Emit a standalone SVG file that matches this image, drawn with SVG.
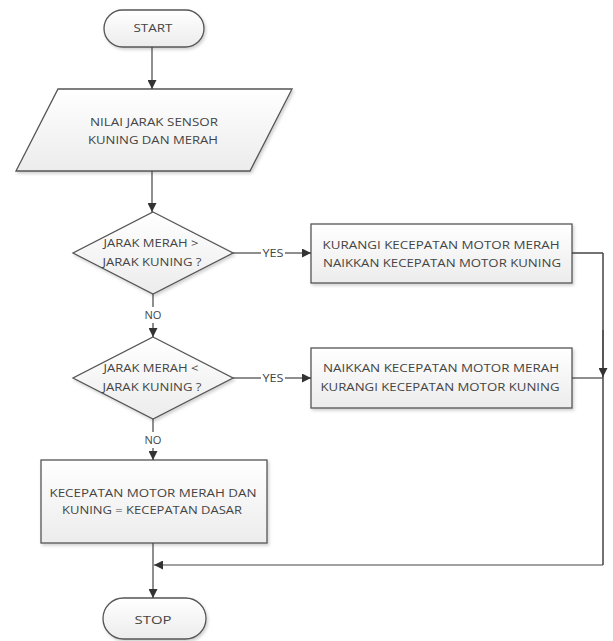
<svg xmlns="http://www.w3.org/2000/svg" width="613" height="641" viewBox="0 0 613 641">
<defs>
<linearGradient id="g" x1="0" y1="0" x2="0" y2="1">
<stop offset="0" stop-color="#ffffff"/>
<stop offset="1" stop-color="#ececec"/>
</linearGradient>
<filter id="sh" x="-5%" y="-5%" width="112%" height="125%">
<feDropShadow dx="1.5" dy="2" stdDeviation="1.5" flood-color="#000" flood-opacity="0.18"/>
</filter>
<marker id="ah" viewBox="0 0 10 10" refX="10" refY="5" markerWidth="9" markerHeight="9" markerUnits="userSpaceOnUse" orient="auto">
<path d="M0,0 L10,5 L0,10 z" fill="#333"/>
</marker>
</defs>
<style>
.shape{fill:url(#g);stroke:#555;stroke-width:1.3;filter:url(#sh)}
.t{font-family:"Open Sans","Liberation Sans",Arial,sans-serif;font-size:10.5px;fill:#444;text-anchor:middle;dominant-baseline:central}
.c{fill:none;stroke:#444;stroke-width:1.2}
.a{marker-end:url(#ah)}
</style>
<rect width="613" height="641" fill="#fff"/>
<g id="start">
<rect class="shape" x="104" y="10" width="100" height="37" rx="18.5"/>
<text class="t" x="153" y="28" textLength="39" lengthAdjust="spacingAndGlyphs">START</text>
</g>
<g id="input">
<polygon class="shape" points="58,89 292,89 250,171 16,171"/>
<text class="t" x="154" y="122" textLength="128" lengthAdjust="spacingAndGlyphs">NILAI JARAK SENSOR</text>
<text class="t" x="153" y="140" textLength="130" lengthAdjust="spacingAndGlyphs">KUNING DAN MERAH</text>
</g>
<g id="decision1">
<polygon class="shape" points="153,212 233,253 153,294 73,253"/>
<text class="t" x="151" y="243" textLength="95" lengthAdjust="spacingAndGlyphs">JARAK MERAH &gt;</text>
<text class="t" x="152" y="262" textLength="99" lengthAdjust="spacingAndGlyphs">JARAK KUNING ?</text>
</g>
<g id="process1">
<rect class="shape" x="311" y="224" width="261" height="59"/>
<text class="t" x="441" y="245" textLength="237" lengthAdjust="spacingAndGlyphs">KURANGI KECEPATAN MOTOR MERAH</text>
<text class="t" x="442" y="263" textLength="238" lengthAdjust="spacingAndGlyphs">NAIKKAN KECEPATAN MOTOR KUNING</text>
</g>
<g id="decision2">
<polygon class="shape" points="153,337 233,378 153,419 73,378"/>
<text class="t" x="151" y="368" textLength="95" lengthAdjust="spacingAndGlyphs">JARAK MERAH &lt;</text>
<text class="t" x="152" y="387" textLength="99" lengthAdjust="spacingAndGlyphs">JARAK KUNING ?</text>
</g>
<g id="process2">
<rect class="shape" x="311" y="348" width="261" height="60"/>
<text class="t" x="441" y="368" textLength="236" lengthAdjust="spacingAndGlyphs">NAIKKAN KECEPATAN MOTOR MERAH</text>
<text class="t" x="440" y="387" textLength="239" lengthAdjust="spacingAndGlyphs">KURANGI KECEPATAN MOTOR KUNING</text>
</g>
<g id="process3">
<rect class="shape" x="41" y="460" width="226" height="83"/>
<text class="t" x="153" y="493" textLength="207" lengthAdjust="spacingAndGlyphs">KECEPATAN MOTOR MERAH DAN</text>
<text class="t" x="152" y="510" textLength="180" lengthAdjust="spacingAndGlyphs">KUNING = KECEPATAN DASAR</text>
</g>
<g id="stop">
<rect class="shape" x="103" y="598" width="103" height="41" rx="20.5"/>
<text class="t" x="153" y="620" textLength="37" lengthAdjust="spacingAndGlyphs">STOP</text>
</g>
<g id="connectors">
<path class="c a" d="M152,47 V89"/>
<path class="c a" d="M152,171 V212"/>
<path class="c" d="M233,253 H261"/>
<path class="c a" d="M285,253 H311"/>
<path class="c" d="M153,294 V307"/>
<path class="c a" d="M153,323 V337"/>
<path class="c" d="M233,378 H261"/>
<path class="c a" d="M285,378 H311"/>
<path class="c" d="M153,419 V432"/>
<path class="c a" d="M153,448 V460"/>
<path class="c a" d="M153,543 V598"/>
<line x1="572" y1="253" x2="603" y2="253" stroke="#444" stroke-width="1.5"/>
<line x1="603" y1="253" x2="603" y2="565" stroke="#444" stroke-width="1.5"/>
<path class="c a" d="M603,330 V377"/>
<path class="c" d="M572,378 H603"/>
<path class="c a" d="M603,565 H154"/>
<text class="t" x="273" y="253" textLength="21" lengthAdjust="spacingAndGlyphs">YES</text>
<text class="t" x="273" y="378" textLength="21" lengthAdjust="spacingAndGlyphs">YES</text>
<text class="t" x="153" y="315" textLength="17" lengthAdjust="spacingAndGlyphs">NO</text>
<text class="t" x="153" y="440" textLength="17" lengthAdjust="spacingAndGlyphs">NO</text>
</g>
</svg>
